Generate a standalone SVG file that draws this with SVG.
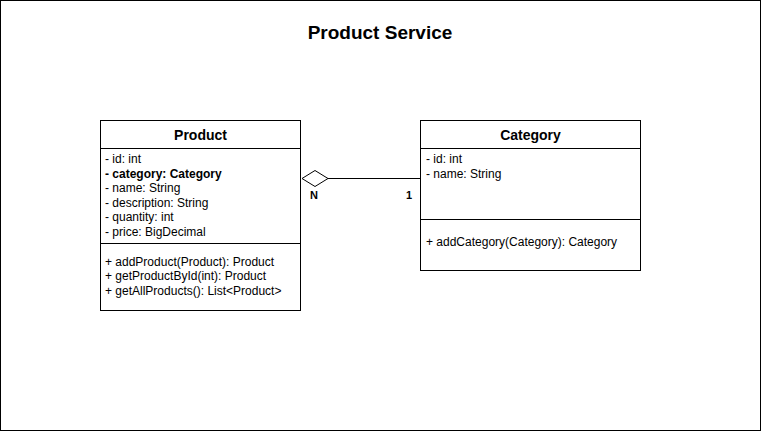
<svg xmlns="http://www.w3.org/2000/svg" width="761" height="431" viewBox="0 0 761 431">
<style>
.box{fill:#fff;stroke:#000;stroke-width:1}
.t{font-family:"Liberation Sans",Arial,sans-serif;font-size:12px;fill:#000}
.h{font-family:"Liberation Sans",Arial,sans-serif;font-size:14px;font-weight:bold;fill:#000}
.b{font-weight:bold}
.lbl{font-family:"Liberation Sans",Arial,sans-serif;font-size:11px;font-weight:bold;fill:#000}
</style>
<rect x="0.5" y="0.5" width="760" height="430" fill="#fff" stroke="#000"/>
<text x="380" y="39" text-anchor="middle" font-family="Liberation Sans,Arial,sans-serif" font-size="19" font-weight="bold">Product Service</text>
<g id="product">
<rect class="box" x="100.5" y="120.5" width="200" height="190"/>
<line x1="100.5" y1="148.5" x2="300.5" y2="148.5" stroke="#000"/>
<line x1="100.5" y1="243.5" x2="300.5" y2="243.5" stroke="#000"/>
<text class="h" x="200.5" y="139.5" text-anchor="middle">Product</text>
<text class="t" x="105" y="163">- id: int</text>
<text class="t b" x="105" y="177.5">- category: Category</text>
<text class="t" x="105" y="192">- name: String</text>
<text class="t" x="105" y="206.5">- description: String</text>
<text class="t" x="105" y="221">- quantity: int</text>
<text class="t" x="105" y="235.5">- price: BigDecimal</text>
<text class="t" x="105" y="265.5">+ addProduct(Product): Product</text>
<text class="t" x="105" y="280">+ getProductById(int): Product</text>
<text class="t" x="105" y="294.5">+ getAllProducts(): List&lt;Product&gt;</text>
</g>
<g id="category">
<rect class="box" x="420.5" y="120.5" width="220" height="150"/>
<line x1="420.5" y1="148.5" x2="640.5" y2="148.5" stroke="#000"/>
<line x1="420.5" y1="219.5" x2="640.5" y2="219.5" stroke="#000"/>
<text class="h" x="530.5" y="139.5" text-anchor="middle">Category</text>
<text class="t" x="426" y="163">- id: int</text>
<text class="t" x="426" y="177.5">- name: String</text>
<text class="t" x="426" y="246">+ addCategory(Category): Category</text>
</g>
<g id="connectors">
<line x1="328" y1="178.5" x2="420.5" y2="178.5" stroke="#000"/>
<polygon points="302,178.5 315,170.5 328,178.5 315,186.5" fill="#fff" stroke="#000"/>
<text class="lbl" x="310" y="199">N</text>
<text class="lbl" x="406" y="199">1</text>
</g>
</svg>
